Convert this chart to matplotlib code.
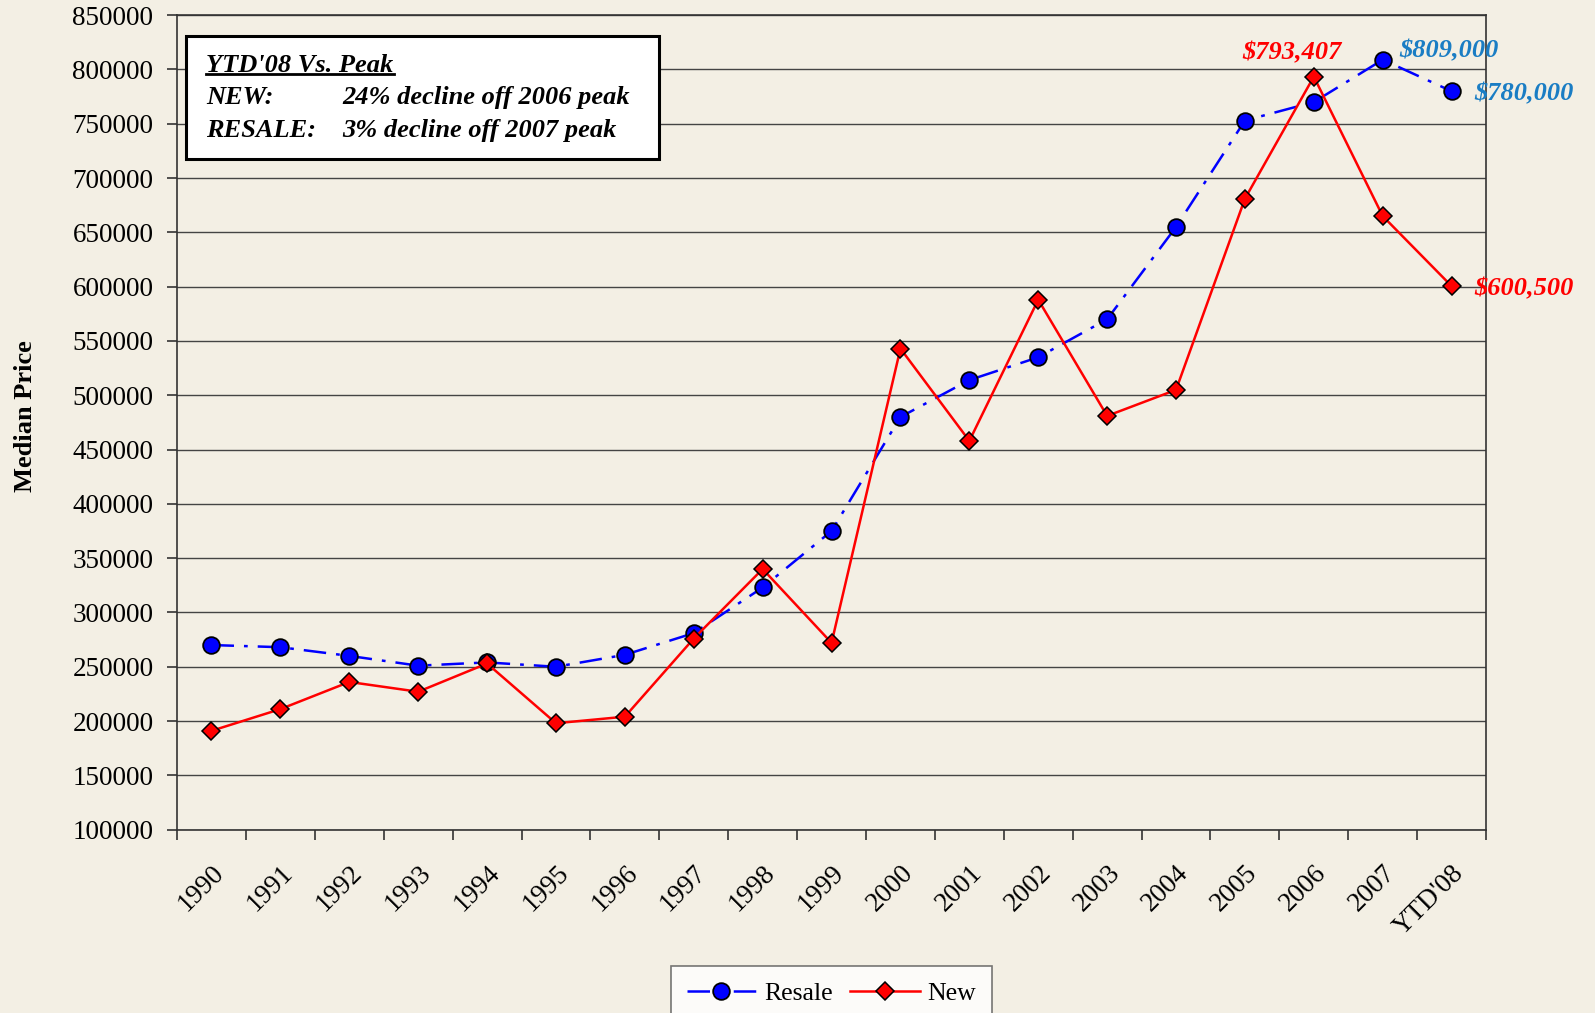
import numpy as np
import matplotlib
matplotlib.use('Agg')
import matplotlib.pyplot as plt
import matplotlib.transforms as mtransforms
from matplotlib.lines import Line2D
from matplotlib.patches import Rectangle


########################################################################################################################
# data
########################################################################################################################
years = ['1990', '1991', '1992', '1993', '1994', '1995', '1996', '1997', '1998', '1999',
         '2000', '2001', '2002', '2003', '2004', '2005', '2006', '2007', "YTD'08"]

resale = [270000, 268000, 260000, 251000, 254000, 250000, 261000, 281000, 323000, 375000,
          480000, 514000, 535000, 570000, 655000, 753000, 770000, 809000, 780000]

new = [191000, 211000, 236000, 227000, 253000, 198000, 204000, 276000, 340000, 272000,
       543000, 458000, 588000, 481000, 505000, 681000, 793407, 665000, 600500]

box_lines = [("NEW:", "24% decline off 2006 peak"),
             ("RESALE:", "3% decline off 2007 peak")]

BG = '#F3EFE4'
RESALE_LBL = '#1A7DC4'

plt.rcParams['font.family'] = ['Liberation Serif', 'DejaVu Serif']

########################################################################################################################
# figure
########################################################################################################################
fig = plt.figure(figsize=(15.95, 10.13), dpi=100, facecolor=BG)
ax = fig.add_axes([0.111, 0.181, 0.8207, 0.804])
ax.set_facecolor(BG)

x = np.arange(len(years))

ax.plot(x, resale, color='blue', linestyle=(0, (9, 4, 1.5, 4)), linewidth=1.8,
        marker='o', markersize=12, markerfacecolor='blue', markeredgecolor='black',
        markeredgewidth=1.3, label='Resale', zorder=3)
ax.plot(x, new, color='red', linestyle='-', linewidth=1.8,
        marker='D', markersize=9, markerfacecolor='red', markeredgecolor='black',
        markeredgewidth=1.1, label='New', zorder=4)

# axes, ticks, grid
ax.set_xlim(-0.5, len(years) - 0.5)
ax.set_ylim(100000, 850000)
ax.set_yticks(np.arange(100000, 850001, 50000))
ax.set_yticklabels([str(v) for v in range(100000, 850001, 50000)], fontsize=19.5)
ax.yaxis.grid(True, color='#444444', linewidth=1.0)
ax.set_axisbelow(True)

ax.set_xticks(np.arange(-0.5, len(years), 1.0))
ax.set_xticklabels([])
ax.set_xticks(x, minor=True)
ax.set_xticklabels(years, minor=True, rotation=45, ha='right', va='top',
                   rotation_mode='anchor', fontsize=19.5)
shift = mtransforms.ScaledTranslation(-4 / 100, 0, fig.dpi_scale_trans)
for lbl in ax.get_xticklabels(minor=True):
    lbl.set_transform(lbl.get_transform() + shift)
ax.tick_params(axis='x', which='major', direction='out', length=7, width=1.2, color='#333333')
ax.tick_params(axis='x', which='minor', length=0, pad=22)
ax.tick_params(axis='y', direction='out', length=7, width=1.2, color='#333333', pad=10)

for s in ax.spines.values():
    s.set_color('#333333')
    s.set_linewidth(1.2)

ax.set_ylabel('Median Price', fontsize=19, fontweight='bold')
ax.yaxis.set_label_coords(-0.107, 0.508)

########################################################################################################################
# value labels
########################################################################################################################
lab_kw = dict(textcoords='offset pixels', fontsize=19, fontweight='bold', fontstyle='italic', va='center')
ax.annotate('\\$793,407', (16, new[16]), xytext=(-22, 24), color='red', ha='center', **lab_kw)
ax.annotate('\\$809,000', (17, resale[17]), xytext=(17, 9), color=RESALE_LBL, ha='left', **lab_kw)
ax.annotate('\\$780,000', (18, resale[18]), xytext=(23, -3), color=RESALE_LBL, ha='left', **lab_kw)
ax.annotate('\\$600,500', (18, new[18]), xytext=(23, -3), color='red', ha='left', **lab_kw)

########################################################################################################################
# text box
########################################################################################################################
ax.add_patch(Rectangle((0.007, 0.824), 0.3614, 0.150, transform=ax.transAxes,
                       facecolor='white', edgecolor='black', linewidth=2.2, zorder=5))

txt_kw = dict(transform=ax.transAxes, fontsize=19, fontweight='bold', fontstyle='italic',
              va='center', ha='left', zorder=6)
title = ax.text(0.0225, 0.9384, "YTD'08 Vs. Peak", **txt_kw)
row_y = [0.8984, 0.8584]
for (k, v), yy in zip(box_lines, row_y):
    ax.text(0.0225, yy, k, **txt_kw)
    ax.text(0.1259, yy, v, **txt_kw)

# underline the box title
fig.canvas.draw()
bb = title.get_window_extent(fig.canvas.get_renderer()).transformed(ax.transAxes.inverted())
ax.add_line(Line2D([bb.x0, bb.x1], [bb.y0 + 0.004, bb.y0 + 0.004], transform=ax.transAxes,
                   color='black', linewidth=2.0, zorder=6))

########################################################################################################################
# legend
########################################################################################################################
pos = ax.get_position()
leg = fig.legend(loc='lower center', bbox_to_anchor=((pos.x0 + pos.x1) / 2, -0.007), ncol=2,
                 fontsize=18.5, frameon=True, fancybox=False, edgecolor='#555555',
                 handlelength=2.7, handletextpad=0.3, columnspacing=0.7,
                 borderaxespad=0, borderpad=0.6)
leg.get_frame().set_linewidth(1.2)
leg.get_frame().set_facecolor('white')

fig.savefig('out.png', dpi=100, facecolor=BG)
